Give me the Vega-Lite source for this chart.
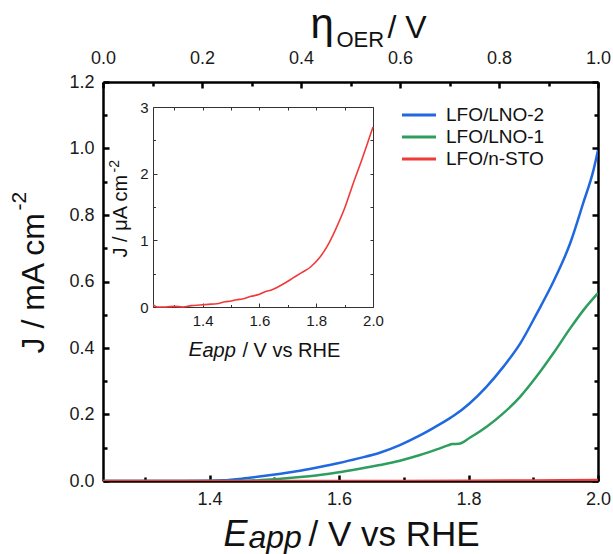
{
  "$schema": "https://vega.github.io/schema/vega-lite/v6.json",
  "width": 495,
  "height": 399,
  "autosize": {"type": "none"},
  "padding": {"left": 103, "top": 82, "right": 15, "bottom": 73},
  "background": "white",
  "config": {
    "font": "Liberation Sans",
    "view": {"stroke": null},
    "axis": {
      "grid": false,
      "labelFont": "Liberation Sans",
      "titleFont": "Liberation Sans",
      "labelColor": "#1a1a1a",
      "titleColor": "#111111",
      "titleFontWeight": "normal",
      "domainColor": "#000000",
      "tickColor": "#000000",
      "labelFlush": false,
      "labelOverlap": false,
      "titleAlign": "left",
      "titleBaseline": "alphabetic"
    }
  },
  "datasets": {
    "main": [
      {"s": "LFO/LNO-2", "E": 1.236, "J": 0},
      {"s": "LFO/LNO-2", "E": 1.3, "J": 0},
      {"s": "LFO/LNO-2", "E": 1.36, "J": 0},
      {"s": "LFO/LNO-2", "E": 1.4, "J": 0.0005},
      {"s": "LFO/LNO-2", "E": 1.42, "J": 0.002},
      {"s": "LFO/LNO-2", "E": 1.45, "J": 0.007},
      {"s": "LFO/LNO-2", "E": 1.48, "J": 0.014},
      {"s": "LFO/LNO-2", "E": 1.51, "J": 0.022},
      {"s": "LFO/LNO-2", "E": 1.54, "J": 0.031},
      {"s": "LFO/LNO-2", "E": 1.57, "J": 0.042},
      {"s": "LFO/LNO-2", "E": 1.6, "J": 0.054},
      {"s": "LFO/LNO-2", "E": 1.63, "J": 0.068},
      {"s": "LFO/LNO-2", "E": 1.663, "J": 0.085},
      {"s": "LFO/LNO-2", "E": 1.694, "J": 0.108},
      {"s": "LFO/LNO-2", "E": 1.725, "J": 0.137},
      {"s": "LFO/LNO-2", "E": 1.756, "J": 0.171},
      {"s": "LFO/LNO-2", "E": 1.777, "J": 0.196},
      {"s": "LFO/LNO-2", "E": 1.802, "J": 0.234},
      {"s": "LFO/LNO-2", "E": 1.828, "J": 0.284},
      {"s": "LFO/LNO-2", "E": 1.854, "J": 0.344},
      {"s": "LFO/LNO-2", "E": 1.88, "J": 0.414},
      {"s": "LFO/LNO-2", "E": 1.905, "J": 0.502},
      {"s": "LFO/LNO-2", "E": 1.931, "J": 0.599},
      {"s": "LFO/LNO-2", "E": 1.957, "J": 0.715},
      {"s": "LFO/LNO-2", "E": 1.977, "J": 0.835},
      {"s": "LFO/LNO-2", "E": 1.993, "J": 0.935},
      {"s": "LFO/LNO-2", "E": 2.0, "J": 0.995},
      {"s": "LFO/LNO-1", "E": 1.236, "J": 0},
      {"s": "LFO/LNO-1", "E": 1.3, "J": 0},
      {"s": "LFO/LNO-1", "E": 1.4, "J": 0},
      {"s": "LFO/LNO-1", "E": 1.45, "J": 0.0005},
      {"s": "LFO/LNO-1", "E": 1.48, "J": 0.003},
      {"s": "LFO/LNO-1", "E": 1.51, "J": 0.007},
      {"s": "LFO/LNO-1", "E": 1.54, "J": 0.012},
      {"s": "LFO/LNO-1", "E": 1.57, "J": 0.018},
      {"s": "LFO/LNO-1", "E": 1.6, "J": 0.026},
      {"s": "LFO/LNO-1", "E": 1.63, "J": 0.036},
      {"s": "LFO/LNO-1", "E": 1.663, "J": 0.048},
      {"s": "LFO/LNO-1", "E": 1.694, "J": 0.061},
      {"s": "LFO/LNO-1", "E": 1.725, "J": 0.078},
      {"s": "LFO/LNO-1", "E": 1.751, "J": 0.095},
      {"s": "LFO/LNO-1", "E": 1.768, "J": 0.107},
      {"s": "LFO/LNO-1", "E": 1.775, "J": 0.111},
      {"s": "LFO/LNO-1", "E": 1.785, "J": 0.112},
      {"s": "LFO/LNO-1", "E": 1.802, "J": 0.13},
      {"s": "LFO/LNO-1", "E": 1.828, "J": 0.163},
      {"s": "LFO/LNO-1", "E": 1.854, "J": 0.204},
      {"s": "LFO/LNO-1", "E": 1.88, "J": 0.254},
      {"s": "LFO/LNO-1", "E": 1.905, "J": 0.314},
      {"s": "LFO/LNO-1", "E": 1.931, "J": 0.384},
      {"s": "LFO/LNO-1", "E": 1.957, "J": 0.459},
      {"s": "LFO/LNO-1", "E": 1.98, "J": 0.52},
      {"s": "LFO/LNO-1", "E": 2.0, "J": 0.565},
      {"s": "LFO/n-STO", "E": 1.236, "J": 0},
      {"s": "LFO/n-STO", "E": 1.6, "J": 0.0002},
      {"s": "LFO/n-STO", "E": 1.8, "J": 0.0007},
      {"s": "LFO/n-STO", "E": 1.9, "J": 0.0016},
      {"s": "LFO/n-STO", "E": 2.0, "J": 0.0027}
    ],
    "inset": [
      {"E": 1.226, "J": 0.03},
      {"E": 1.24, "J": 0.0},
      {"E": 1.27, "J": 0.0},
      {"E": 1.3, "J": 0.01},
      {"E": 1.33, "J": 0.0},
      {"E": 1.36, "J": 0.02},
      {"E": 1.39, "J": 0.03},
      {"E": 1.42, "J": 0.04},
      {"E": 1.45, "J": 0.05},
      {"E": 1.48, "J": 0.08},
      {"E": 1.5, "J": 0.09},
      {"E": 1.52, "J": 0.11},
      {"E": 1.54, "J": 0.12},
      {"E": 1.57, "J": 0.16},
      {"E": 1.6, "J": 0.19},
      {"E": 1.62, "J": 0.23},
      {"E": 1.64, "J": 0.25},
      {"E": 1.66, "J": 0.29},
      {"E": 1.69, "J": 0.36},
      {"E": 1.72, "J": 0.44},
      {"E": 1.75, "J": 0.52},
      {"E": 1.78, "J": 0.6},
      {"E": 1.81, "J": 0.73},
      {"E": 1.84, "J": 0.92},
      {"E": 1.87, "J": 1.18},
      {"E": 1.9, "J": 1.48},
      {"E": 1.93, "J": 1.85},
      {"E": 1.96, "J": 2.2},
      {"E": 1.98, "J": 2.45},
      {"E": 2.0, "J": 2.7}
    ]
  },
  "resolve": {
    "scale": {"x": "independent", "y": "independent"},
    "axis": {"x": "independent", "y": "independent"}
  },
  "layer": [
    {
      "data": {"name": "main"},
      "mark": {"type": "line", "strokeWidth": 2.5, "clip": true, "interpolate": "monotone"},
      "encoding": {
        "x": {
          "field": "E", "type": "quantitative",
          "scale": {"domain": [1.2355, 2.0], "nice": false, "zero": false},
          "axis": {
            "orient": "bottom", "values": [1.4, 1.6, 1.8, 2.0], "format": ".1f",
            "tickSize": -6, "tickWidth": 2.5, "domainWidth": 2.5,
            "labelFontSize": 18, "labelPadding": 15,
            "title": "E", "titleFontSize": 36, "titleFontStyle": "italic",
            "titleX": 120, "titleY": 64
          }
        },
        "y": {
          "field": "J", "type": "quantitative",
          "scale": {"domain": [0, 1.2], "nice": false, "zero": false},
          "axis": {
            "orient": "left", "values": [0, 0.2, 0.4, 0.6, 0.8, 1.0, 1.2], "format": ".1f",
            "tickSize": -6, "tickWidth": 2.5, "domainWidth": 2.5,
            "labelFontSize": 18, "labelPadding": 15,
            "title": "J / mA cm", "titleFontSize": 32, "titleAngle": 270,
            "titleX": -60, "titleY": 271
          }
        },
        "color": {
          "field": "s", "type": "nominal",
          "scale": {"domain": ["LFO/LNO-2", "LFO/LNO-1", "LFO/n-STO"], "range": ["#1f68e0", "#2e9e5e", "#f03a3a"]},
          "legend": {
            "orient": "none", "legendX": 306, "legendY": 23, "title": null,
            "symbolType": "M-2,0H2", "symbolSize": 289, "symbolStrokeWidth": 3,
            "labelFontSize": 19, "labelColor": "#111111", "labelOffset": 17, "rowPadding": 2,
            "labelFont": "Liberation Sans"
          }
        }
      }
    },
    {
      "data": {"name": "main"},
      "mark": {"type": "point", "opacity": 0, "clip": true},
      "encoding": {
        "x": {
          "field": "E", "type": "quantitative",
          "scale": {"domain": [1.2355, 2.0], "nice": false, "zero": false},
          "axis": {
            "orient": "bottom", "values": [1.3, 1.5, 1.7, 1.9], "labels": false, "domain": false,
            "tickSize": -4, "tickWidth": 2.5,
            "title": "app", "titleFontSize": 32, "titleFontStyle": "italic",
            "titleX": 145, "titleY": 66
          }
        },
        "y": {
          "field": "J", "type": "quantitative",
          "scale": {"domain": [0, 1.2], "nice": false, "zero": false},
          "axis": {
            "orient": "left", "values": [0.1, 0.3, 0.5, 0.7, 0.9, 1.1], "labels": false, "domain": false,
            "tickSize": -4, "tickWidth": 2.5,
            "title": "-2", "titleFontSize": 21, "titleAngle": 270,
            "titleX": -78, "titleY": 128
          }
        }
      }
    },
    {
      "data": {"name": "main"},
      "mark": {"type": "point", "opacity": 0, "clip": true},
      "encoding": {
        "x": {
          "field": "E", "type": "quantitative",
          "scale": {"domain": [0, 1], "nice": false, "zero": false},
          "axis": {
            "orient": "top", "values": [0, 0.2, 0.4, 0.6, 0.8, 1.0], "format": ".1f",
            "tickSize": -6, "tickWidth": 2.5, "domainWidth": 2.5,
            "labelFontSize": 18, "labelPadding": 21,
            "title": "η", "titleFontSize": 42,
            "titleX": 207, "titleY": -45
          }
        },
        "y": {
          "field": "J", "type": "quantitative",
          "scale": {"domain": [0, 1.2], "nice": false, "zero": false},
          "axis": {
            "orient": "right", "values": [0, 0.2, 0.4, 0.6, 0.8, 1.0, 1.2], "labels": false,
            "tickSize": -6, "tickWidth": 2.5, "domainWidth": 2.5,
            "title": "/ V", "titleFontSize": 32, "titleAngle": 0,
            "titleX": -211, "titleY": -45
          }
        }
      }
    },
    {
      "data": {"name": "main"},
      "mark": {"type": "point", "opacity": 0, "clip": true},
      "encoding": {
        "x": {
          "field": "E", "type": "quantitative",
          "scale": {"domain": [0, 1], "nice": false, "zero": false},
          "axis": {
            "orient": "top", "values": [0.1, 0.3, 0.5, 0.7, 0.9], "labels": false, "domain": false,
            "tickSize": -4, "tickWidth": 2.5,
            "title": "OER", "titleFontSize": 22,
            "titleX": 233, "titleY": -36
          }
        },
        "y": {
          "field": "J", "type": "quantitative",
          "scale": {"domain": [0, 1.2], "nice": false, "zero": false},
          "axis": {
            "orient": "right", "values": [0.1, 0.3, 0.5, 0.7, 0.9, 1.1], "labels": false, "domain": false,
            "tickSize": -4, "tickWidth": 2.5,
            "title": "/ V vs RHE", "titleFontSize": 35, "titleAngle": 0,
            "titleX": -290, "titleY": 463
          }
        }
      }
    },
    {
      "data": {"name": "inset"},
      "mark": {"type": "line", "strokeWidth": 1.6, "color": "#f03a3a", "interpolate": "monotone"},
      "encoding": {
        "x": {
          "field": "E", "type": "quantitative",
          "scale": {"domain": [1.225, 2.0], "range": [50, 270], "nice": false, "zero": false},
          "axis": {
            "orient": "bottom", "offset": -174, "values": [1.4, 1.6, 1.8, 2.0], "format": ".1f",
            "tickSize": -4, "tickWidth": 1, "domainWidth": 1, "domainColor": "#333333", "tickColor": "#333333",
            "labelFontSize": 15, "labelPadding": 10,
            "title": "E", "titleFontSize": 21, "titleFontStyle": "italic",
            "titleX": 85, "titleY": 48
          }
        },
        "y": {
          "field": "J", "type": "quantitative",
          "scale": {"domain": [0, 3], "range": [225, 25], "nice": false, "zero": false},
          "axis": {
            "orient": "left", "offset": -50, "values": [0, 1, 2, 3], "format": "d",
            "tickSize": -4, "tickWidth": 1, "domainWidth": 1, "domainColor": "#333333", "tickColor": "#333333",
            "labelFontSize": 15, "labelPadding": 9,
            "title": "J / μA cm", "titleFontSize": 20, "titleAngle": 270,
            "titleX": -27, "titleY": 175
          }
        }
      }
    },
    {
      "data": {"name": "inset"},
      "mark": {"type": "point", "opacity": 0},
      "encoding": {
        "x": {
          "field": "E", "type": "quantitative",
          "scale": {"domain": [1.225, 2.0], "range": [50, 270], "nice": false, "zero": false},
          "axis": {
            "orient": "bottom", "offset": -174, "values": [1.3, 1.5, 1.7, 1.9], "labels": false, "domain": false,
            "tickSize": -2.5, "tickWidth": 1, "tickColor": "#333333",
            "title": "app", "titleFontSize": 20, "titleFontStyle": "italic",
            "titleX": 99, "titleY": 49
          }
        },
        "y": {
          "field": "J", "type": "quantitative",
          "scale": {"domain": [0, 3], "range": [225, 25], "nice": false, "zero": false},
          "axis": {
            "orient": "left", "offset": -50, "values": [0.5, 1.5, 2.5], "labels": false, "domain": false,
            "tickSize": -2.5, "tickWidth": 1, "tickColor": "#333333",
            "title": "-2", "titleFontSize": 14, "titleAngle": 270,
            "titleX": -35, "titleY": 90
          }
        }
      }
    },
    {
      "data": {"name": "inset"},
      "mark": {"type": "point", "opacity": 0},
      "encoding": {
        "x": {
          "field": "E", "type": "quantitative",
          "scale": {"domain": [1.225, 2.0], "range": [50, 270], "nice": false, "zero": false},
          "axis": {
            "orient": "top", "offset": -25, "values": [1.3, 1.4, 1.5, 1.6, 1.7, 1.8, 1.9, 2.0], "labels": false,
            "tickSize": -3, "tickWidth": 1, "tickColor": "#333333", "domainWidth": 1, "domainColor": "#333333",
            "title": "/ V vs RHE", "titleFontSize": 20, "titleAngle": 0,
            "titleX": 139, "titleY": 249
          }
        },
        "y": {
          "field": "J", "type": "quantitative",
          "scale": {"domain": [0, 3], "range": [225, 25], "nice": false, "zero": false},
          "axis": {
            "orient": "right", "offset": -225, "values": [0, 0.5, 1, 1.5, 2, 2.5, 3], "labels": false,
            "tickSize": -3, "tickWidth": 1, "tickColor": "#333333", "domainWidth": 1, "domainColor": "#333333",
            "title": null
          }
        }
      }
    }
  ]
}
